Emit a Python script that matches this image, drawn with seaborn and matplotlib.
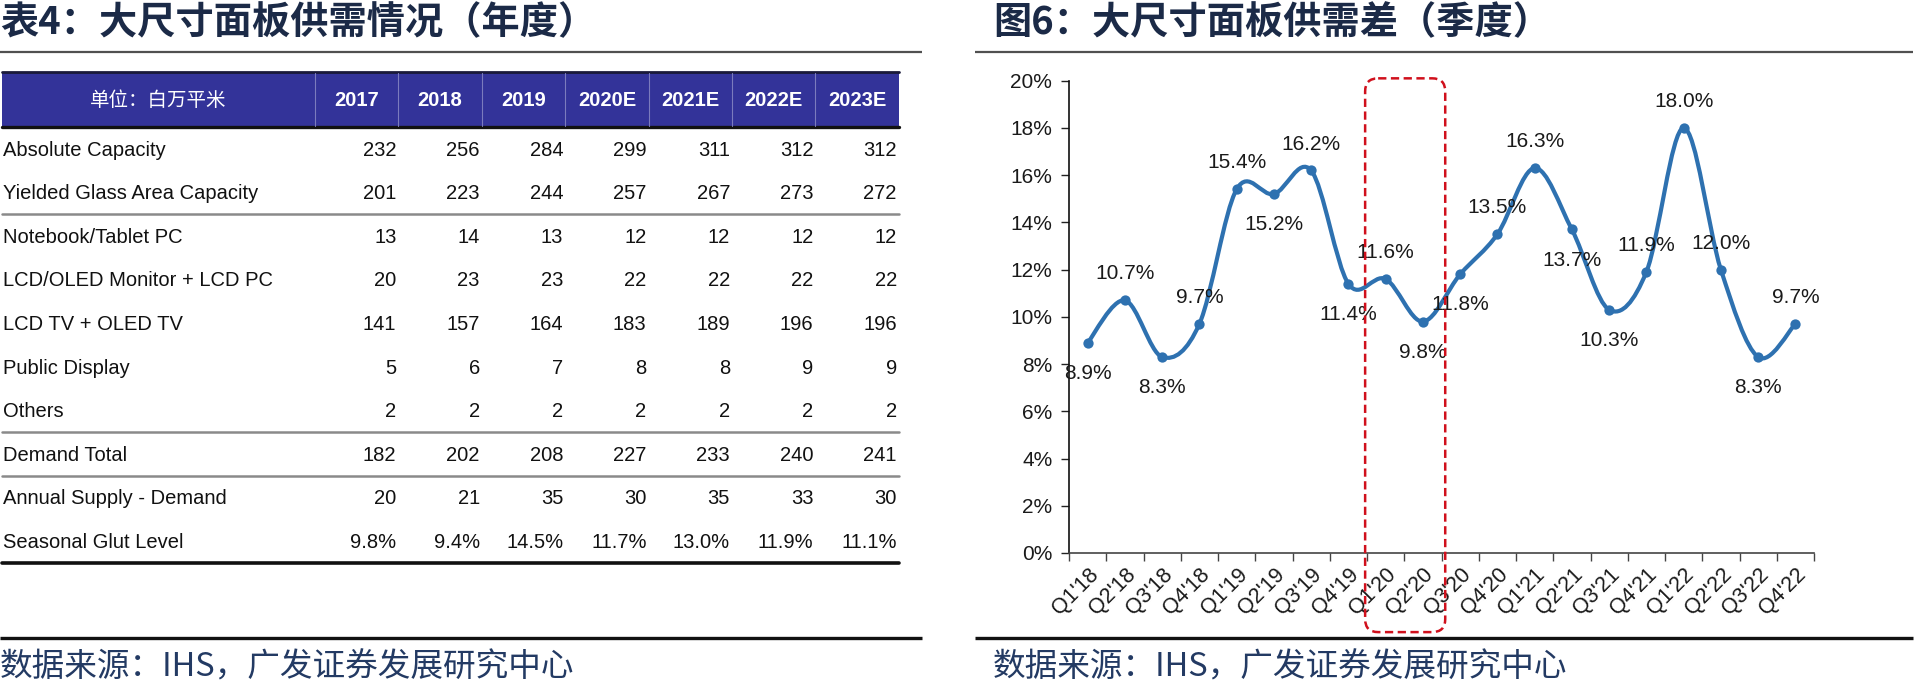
import numpy as np
import pandas as pd
import matplotlib
matplotlib.use('Agg')
import matplotlib.pyplot as plt
import seaborn as sns
from matplotlib.path import Path
from matplotlib.patches import PathPatch, FancyBboxPatch, Rectangle

# --- Data ---
years = ['2017', '2018', '2019', '2020E', '2021E', '2022E', '2023E']
row_labels = ['Absolute Capacity', 'Yielded Glass Area Capacity', 'Notebook/Tablet PC',
              'LCD/OLED Monitor + LCD PC', 'LCD TV + OLED TV', 'Public Display', 'Others',
              'Demand Total', 'Annual Supply - Demand', 'Seasonal Glut Level']
absolute_capacity = [232, 256, 284, 299, 311, 312, 312]
yielded_capacity = [201, 223, 244, 257, 267, 273, 272]
notebook_tablet = [13, 14, 13, 12, 12, 12, 12]
monitor_pc = [20, 23, 23, 22, 22, 22, 22]
tv = [141, 157, 164, 183, 189, 196, 196]
public_display = [5, 6, 7, 8, 8, 9, 9]
others = [2, 2, 2, 2, 2, 2, 2]
demand_total = [182, 202, 208, 227, 233, 240, 241]
supply_minus_demand = [20, 21, 35, 30, 35, 33, 30]
glut_level = [9.8, 9.4, 14.5, 11.7, 13.0, 11.9, 11.1]

quarters = ["Q1'18", "Q2'18", "Q3'18", "Q4'18", "Q1'19", "Q2'19", "Q3'19", "Q4'19",
            "Q1'20", "Q2'20", "Q3'20", "Q4'20", "Q1'21", "Q2'21", "Q3'21", "Q4'21",
            "Q1'22", "Q2'22", "Q3'22", "Q4'22"]
glut_gap = [8.9, 10.7, 8.3, 9.7, 15.4, 15.2, 16.2, 11.4, 11.6, 9.8,
            11.8, 13.5, 16.3, 13.7, 10.3, 11.9, 18.0, 12.0, 8.3, 9.7]
# where each data label sits relative to its point
label_side = ['below', 'above', 'below', 'above', 'above', 'below', 'above', 'below',
              'above', 'below', 'below', 'above', 'above', 'below', 'below', 'above',
              'above', 'above', 'below', 'above']

# --- Setup ---
sns.set_theme(style='ticks')
plt.rcParams['font.family'] = ['Liberation Sans', 'Noto Sans CJK SC', 'DejaVu Sans']
CJK = ['Noto Sans CJK SC', 'Liberation Sans', 'DejaVu Sans']
TITLE_C = '#1B2A47'
NOTE_C = '#233A63'
LINE_C = '#2E71B0'

W, H = 1923, 683
fig = plt.figure(figsize=(W / 100, H / 100), dpi=100)
fig.patch.set_facecolor('white')

# --- Right: quarterly supply-demand gap ---
ax = fig.add_axes([1069 / W, 1 - 553 / H, 745 / W, 472.3 / H])
df = pd.DataFrame({'quarter': quarters, 'gap': glut_gap, 'pos': np.arange(len(quarters))})

# Excel-style smoothed line (Catmull-Rom through the data points)
pts = df[['pos', 'gap']].to_numpy(dtype=float)
ext = np.vstack([pts[0], pts, pts[-1]])
verts, codes = [pts[0]], [Path.MOVETO]
for i in range(len(pts) - 1):
    p0, p1, p2, p3 = ext[i], ext[i + 1], ext[i + 2], ext[i + 3]
    verts += [p1 + (p2 - p0) / 6, p2 - (p3 - p1) / 6, p2]
    codes += [Path.CURVE4] * 3
ax.add_patch(PathPatch(Path(verts, codes), fill=False, ec=LINE_C, lw=3,
                       capstyle='round', joinstyle='round', zorder=2))
sns.scatterplot(data=df, x='pos', y='gap', color=LINE_C, edgecolor=LINE_C, s=55,
                linewidth=0, legend=False, ax=ax, zorder=3)

for p, v, side in zip(df['pos'], df['gap'], label_side):
    off = 19 if side == 'above' else -22
    ax.annotate(f'{v:.1f}%', (p, v), xytext=(0, off), textcoords='offset points',
                ha='center', va='center', fontsize=15, color='#1a1a1a')

ax.set_xlim(-0.5, len(quarters) - 0.5)
ax.set_ylim(0, 20)
ax.set_yticks(np.arange(0, 21, 2))
ax.set_yticklabels([f'{t}%' for t in range(0, 21, 2)])
ax.set_xticks(df['pos'])
ax.set_xticklabels(quarters, rotation=45, ha='right', va='top', rotation_mode='anchor')
ax.set_xticks(np.arange(-0.5, len(quarters)), minor=True)
ax.tick_params(axis='x', which='major', length=0, labelsize=15.5, pad=8, labelcolor='#1a1a1a')
ax.tick_params(axis='x', which='minor', length=6, width=1, color='#444444', direction='out')
ax.tick_params(axis='y', length=6, width=1, color='#222222', labelsize=15, pad=6,
               labelcolor='#1a1a1a', direction='out')
ax.set_xlabel('')
ax.set_ylabel('')
sns.despine(ax=ax)
ax.spines['left'].set_color('#111111')
ax.spines['bottom'].set_color('#444444')
ax.spines['left'].set_linewidth(1.2)
ax.spines['bottom'].set_linewidth(1.2)

# --- Overlay in pixel coordinates for titles, rules, table ---
ov = fig.add_axes([0, 0, 1, 1], zorder=5)
ov.set_xlim(0, W)
ov.set_ylim(H, 0)
ov.axis('off')
ov.patch.set_alpha(0)

# red dashed highlight around Q1'20-Q2'20
x0_disp = ax.transData.transform((7.45, 20.1))
x1_disp = ax.transData.transform((9.6, -3.35))
bx0, by0 = x0_disp[0], H - x0_disp[1]
bx1, by1 = x1_disp[0], H - x1_disp[1]
ov.add_patch(FancyBboxPatch((bx0, by0), bx1 - bx0, by1 - by0,
                            boxstyle='round,pad=0,rounding_size=13', fill=False,
                            ec='#D0101C', lw=1.8, linestyle=(0, (3.3, 1.8))))

# titles
ov.text(0, 23, '表4：大尺寸面板供需情况（年度）', fontsize=27.5, fontweight='bold',
        ha='left', va='center', color=TITLE_C, family=CJK)
ov.text(993, 23, '图6：大尺寸面板供需差（季度）', fontsize=27.5, fontweight='bold',
        ha='left', va='center', color=TITLE_C, family=CJK)
for xa, xb in [(0, 922), (975, 1913)]:
    ov.plot([xa, xb], [52, 52], color='#505050', lw=1.6, solid_capstyle='butt')
    ov.plot([xa, xb], [638, 638], color='#111111', lw=2.4, solid_capstyle='butt')
ov.text(0, 667, '数据来源：IHS，广发证券发展研究中心', fontsize=23.5, ha='left', va='center',
        color=NOTE_C, family=CJK)
ov.text(993, 667, '数据来源：IHS，广发证券发展研究中心', fontsize=23.5, ha='left', va='center',
        color=NOTE_C, family=CJK)

# --- Left: annual table ---
col_w = 83.4
col_edges = [315 + col_w * i for i in range(len(years) + 1)]
ov.add_patch(Rectangle((2, 72), 897, 55, fc='#333399', ec='none'))
ov.plot([2, 899], [72, 72], color='#1a1a3a', lw=2)
ov.plot([2, 899], [127, 127], color='#111111', lw=2.4)
for xe in col_edges[:-1]:
    ov.plot([xe, xe], [73, 126], color='#7b7bbd', lw=0.8)
ov.text(158, 100, '单位：白万平米', fontsize=14, color='white', ha='center', va='center',
        family=CJK)
for i, yr in enumerate(years):
    ov.text((col_edges[i] + col_edges[i + 1]) / 2, 100, yr, fontsize=14.5, fontweight='bold',
            color='white', ha='center', va='center')

rows = [absolute_capacity, yielded_capacity, notebook_tablet, monitor_pc, tv,
        public_display, others, demand_total, supply_minus_demand]
cells = [[str(v) for v in r] for r in rows] + [[f'{v:.1f}%' for v in glut_level]]
row_h = 43.6
for i, (lab, vals) in enumerate(zip(row_labels, cells)):
    y = 150 + row_h * i
    ov.text(3, y, lab, fontsize=14.5, color='#111111', ha='left', va='center')
    for j, s in enumerate(vals):
        ov.text(col_edges[j + 1] - 2, y, s, fontsize=14.5, color='#111111',
                ha='right', va='center')

for yl in [214, 432, 476]:
    ov.plot([2, 899], [yl, yl], color='#8a8a8a', lw=1.8)
ov.plot([2, 899], [563, 563], color='#111111', lw=2.6)

plt.savefig('out.png', dpi=100)
